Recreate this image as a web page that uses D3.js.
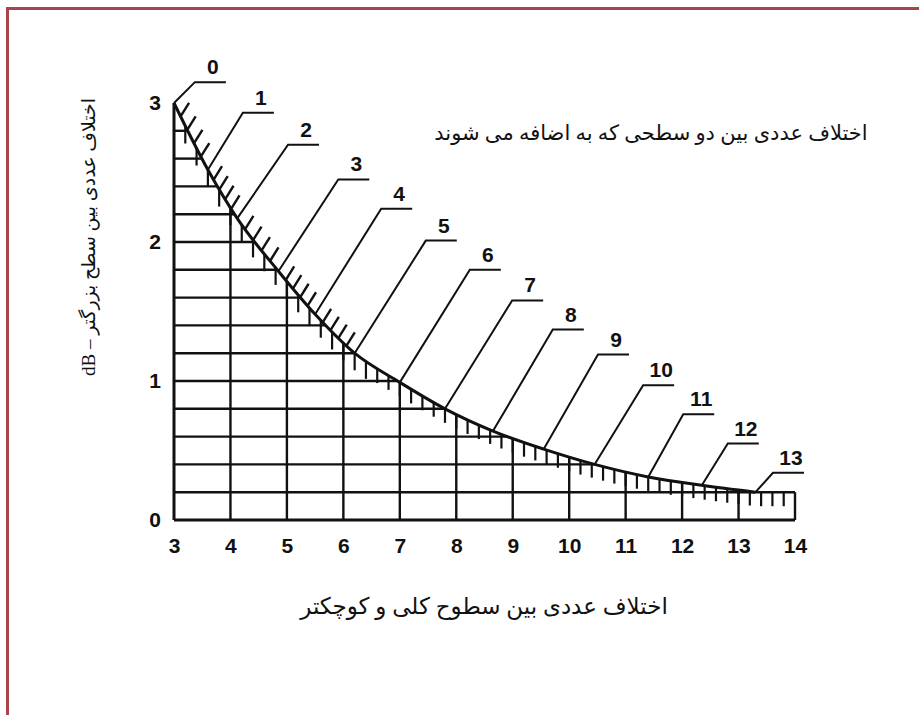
<!DOCTYPE html>
<html>
<head>
<meta charset="utf-8">
<script src="https://cdn.jsdelivr.net/npm/d3@7"></script>
<style>
  body { margin: 0; background: #fff; }
  .num { font-family: "Liberation Sans", Arial, sans-serif; font-weight: bold; font-size: 21px; fill: #111; }
  .fa { font-family: "Liberation Serif", "DejaVu Sans", serif; fill: #111; }
</style>
</head>
<body>
<script>
var width = 919;
var height = 715;

// axis values
var xTicks = [3, 4, 5, 6, 7, 8, 9, 10, 11, 12, 13, 14];
var yTicks = [0, 1, 2, 3];
var gridX = [4, 5, 6, 7, 8, 9, 10, 11, 12, 13, 14];
var gridY = [0.2, 0.4, 0.6, 0.8, 1.0, 1.2, 1.4, 1.6, 1.8, 2.0, 2.2, 2.4, 2.6, 2.8];

// curve: one point per level difference label
var labels = ["0", "1", "2", "3", "4", "5", "6", "7", "8", "9", "10", "11", "12", "13"];
var curveX = [3.0, 3.6, 4.12, 4.85, 5.5, 6.2, 7.0, 7.8, 8.65, 9.55, 10.45, 11.4, 12.35, 13.3];
var curveY = [3.0, 2.52, 2.17, 1.79, 1.48, 1.2, 0.99, 0.8, 0.64, 0.51, 0.4, 0.31, 0.25, 0.2];

// where each leader line bends to the label
var leaderX = [3.37, 4.22, 5.02, 5.91, 6.67, 7.46, 8.24, 8.99, 9.71, 10.51, 11.31, 12.02, 12.81, 13.61];
var leaderY = [3.15, 2.93, 2.70, 2.45, 2.24, 2.01, 1.80, 1.58, 1.37, 1.19, 0.97, 0.76, 0.55, 0.34];

var boxTop = 0.2;
var boxEnd = 14;

var title = "اختلاف عددی بین دو سطحی که به اضافه می شوند";
var xTitle = "اختلاف عددی بین سطوح کلی و کوچکتر";
var yTitle = "اختلاف عددی بین سطح بزرگتر – dB";

var x = d3.scaleLinear().domain([3, 14]).range([174, 795]);
var y = d3.scaleLinear().domain([0, 3]).range([520, 103]);

var svg = d3.select("body")
    .append("svg")
    .attr("width", width)
    .attr("height", height);

// red frame (left and top only)
svg.append("path")
    .attr("d", "M7.5," + height + "V8.5H" + width)
    .attr("fill", "none")
    .attr("stroke", "#a8454b")
    .attr("stroke-width", 3);

var pts = curveX.map(function(d, i) { return [d, curveY[i]]; });
var line = d3.line()
    .x(function(d) { return x(d[0]); })
    .y(function(d) { return y(d[1]); })
    .curve(d3.curveMonotoneX);

var grid = svg.append("g");
var curve = svg.append("path")
    .attr("d", line(pts))
    .attr("fill", "none")
    .attr("stroke", "#111")
    .attr("stroke-width", 3);

// sample the curve so grid and ticks can stop on it
var node = curve.node();
var total = node.getTotalLength();
var samples = d3.range(0, 1501).map(function(i) {
  var p = node.getPointAtLength(total * i / 1500);
  return { x: p.x, y: p.y, l: total * i / 1500 };
});
var lastX = x(curveX[curveX.length - 1]);

function curveAtX(px) {
  if (px >= lastX) return y(boxTop);
  var i = d3.bisector(function(d) { return d.x; }).left(samples, px);
  return samples[Math.min(i, samples.length - 1)].y;
}
function curveAtY(py) {
  var i = d3.bisector(function(d) { return d.y; }).left(samples, py);
  return samples[Math.min(i, samples.length - 1)].x;
}

// horizontal grid
grid.selectAll(".h")
    .data(gridY)
    .enter().append("line")
    .attr("x1", x(3))
    .attr("x2", function(d) { return d <= boxTop + 1e-9 ? x(boxEnd) : curveAtY(y(d)); })
    .attr("y1", function(d) { return y(d); })
    .attr("y2", function(d) { return y(d); })
    .attr("stroke", "#111")
    .attr("stroke-width", 2.4);

// vertical grid
grid.selectAll(".v")
    .data(gridX)
    .enter().append("line")
    .attr("x1", function(d) { return x(d); })
    .attr("x2", function(d) { return x(d); })
    .attr("y1", y(0))
    .attr("y2", function(d) { return curveAtX(x(d)); })
    .attr("stroke", "#111")
    .attr("stroke-width", 2.4);

// axis lines
grid.append("line")
    .attr("x1", x(3)).attr("x2", x(3))
    .attr("y1", y(0)).attr("y2", y(3))
    .attr("stroke", "#111").attr("stroke-width", 3);
grid.append("line")
    .attr("x1", x(3)).attr("x2", x(boxEnd))
    .attr("y1", y(0)).attr("y2", y(0))
    .attr("stroke", "#111").attr("stroke-width", 3);

// vertical minor ticks hanging under the curve, every 0.2
var minorX = d3.range(16, 70).map(function(i) { return i / 5; });
grid.selectAll(".mv")
    .data(minorX)
    .enter().append("line")
    .attr("x1", function(d) { return x(d); })
    .attr("x2", function(d) { return x(d); })
    .attr("y1", function(d) { return curveAtX(x(d)); })
    .attr("y2", function(d) { return curveAtX(x(d)) + (d < 6.5 ? 17 : 14); })
    .attr("stroke", "#111")
    .attr("stroke-width", 2.2);

// slanted ticks above the curve between labels 0 and 5
var labelLen = curveX.map(function(d) {
  var px = x(d);
  var best = samples[0];
  samples.forEach(function(s) { if (Math.abs(s.x - px) < Math.abs(best.x - px)) best = s; });
  return best.l;
});
var slant = [];
for (var i = 0; i < 5; i++) {
  [0.2, 0.4, 0.6, 0.8].forEach(function(f) {
    slant.push(labelLen[i] + f * (labelLen[i + 1] - labelLen[i]));
  });
}
var ang = 58 * Math.PI / 180;
grid.selectAll(".ms")
    .data(slant)
    .enter().append("line")
    .attr("x1", function(d) { return node.getPointAtLength(d).x; })
    .attr("y1", function(d) { return node.getPointAtLength(d).y; })
    .attr("x2", function(d) { return node.getPointAtLength(d).x + 16 * Math.cos(ang); })
    .attr("y2", function(d) { return node.getPointAtLength(d).y - 16 * Math.sin(ang); })
    .attr("stroke", "#111")
    .attr("stroke-width", 2.4);

// leaders and labels
var lead = svg.append("g");
labels.forEach(function(lab, i) {
  var ex = x(leaderX[i]), ey = y(leaderY[i]);
  lead.append("path")
      .attr("d", "M" + x(curveX[i]) + "," + y(curveY[i]) + "L" + ex + "," + ey + "H" + (ex + 31))
      .attr("fill", "none")
      .attr("stroke", "#111")
      .attr("stroke-width", 2);
  lead.append("text")
      .attr("class", "num")
      .attr("x", ex + 18)
      .attr("y", ey - 8)
      .attr("text-anchor", "middle")
      .text(lab);
});

// tick labels
svg.append("g")
    .attr("transform", "translate(0," + y(0) + ")")
    .call(d3.axisBottom(x).tickValues(xTicks).tickFormat(d3.format("d")).tickSize(0).tickPadding(18))
    .call(function(g) { g.select(".domain").remove(); })
    .selectAll("text").attr("class", "num").attr("font-family", null).attr("font-size", null).attr("fill", null);
svg.append("g")
    .attr("transform", "translate(" + x(3) + ",0)")
    .call(d3.axisLeft(y).tickValues(yTicks).tickFormat(d3.format("d")).tickSize(0).tickPadding(13))
    .call(function(g) { g.select(".domain").remove(); })
    .selectAll("text").attr("class", "num").attr("font-family", null).attr("font-size", null).attr("fill", null);

// titles
svg.append("text")
    .attr("class", "fa")
    .attr("font-size", 21)
    .attr("x", 651).attr("y", 140)
    .attr("text-anchor", "middle")
    .attr("direction", "rtl")
    .text(title);
svg.append("text")
    .attr("class", "fa")
    .attr("font-size", 23)
    .attr("x", 484).attr("y", 614)
    .attr("text-anchor", "middle")
    .attr("direction", "rtl")
    .text(xTitle);
svg.append("text")
    .attr("class", "fa")
    .attr("font-size", 19)
    .attr("transform", "translate(95,237) rotate(-90)")
    .attr("text-anchor", "middle")
    .attr("direction", "rtl")
    .text(yTitle);
</script>
</body>
</html>
